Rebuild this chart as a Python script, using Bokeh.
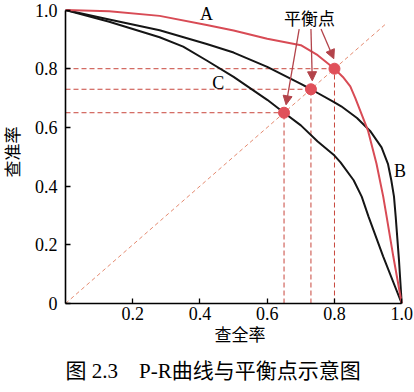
import math
from bokeh.plotting import figure
from bokeh.models import Label, Arrow, NormalHead, FixedTicker, Range1d, Title
from bokeh.embed import file_html
from bokeh.resources import INLINE

# ---- data ----
recall_A = [0.0, 0.13, 0.28, 0.42, 0.50, 0.60, 0.70, 0.75, 0.80, 0.825, 0.847, 0.862, 0.90, 0.925, 0.945, 0.955, 0.975, 1.0]
precision_A = [1.0, 0.996, 0.980, 0.949, 0.930, 0.902, 0.880, 0.846, 0.800, 0.772, 0.740, 0.700, 0.588, 0.476, 0.364, 0.297, 0.160, 0.0]

recall_B = [0.0, 0.13, 0.28, 0.42, 0.50, 0.60, 0.70, 0.73, 0.80, 0.82, 0.867, 0.906, 0.94, 0.959, 0.969, 0.977, 0.982, 0.992, 1.0]
precision_B = [1.0, 0.968, 0.931, 0.884, 0.855, 0.806, 0.748, 0.730, 0.685, 0.672, 0.632, 0.588, 0.532, 0.476, 0.420, 0.364, 0.297, 0.145, 0.0]

recall_C = [0.0, 0.13, 0.28, 0.35, 0.42, 0.50, 0.60, 0.65, 0.70, 0.75, 0.80, 0.818, 0.857, 0.881, 0.901, 0.945, 1.0]
precision_C = [1.0, 0.960, 0.907, 0.875, 0.828, 0.772, 0.694, 0.650, 0.607, 0.552, 0.504, 0.481, 0.420, 0.364, 0.297, 0.160, 0.0]

bep_values = [0.80, 0.73, 0.65]   # break-even points of A, B, C
diag_end = 0.95

x_ticks = [0.2, 0.4, 0.6, 0.8, 1.0]
x_tick_labels = ["0.2", "0.4", "0.6", "0.8", "1.0"]
y_ticks = [0.0, 0.2, 0.4, 0.6, 0.8, 1.0]
y_tick_labels = ["0", "0.2", "0.4", "0.6", "0.8", "1.0"]

curve_names = ["A", "B", "C"]
x_title = "查全率"
y_title = "查准率"
bep_title = "平衡点"
NB = "\u00a0"
caption = "图" + NB + "2.3" + NB * 4 + "P-R曲线与平衡点示意图"

# ---- styles ----
RED = "#d84b55"
DOT = "#e0505a"
DASH = "#c8463c"
DIAG = "#e48a70"
ARROW = "#b3434a"
BLACK = "#151515"
SERIF = "Liberation Serif"
CJK = "Noto Sans CJK SC"
MIX = "Liberation Serif, Noto Sans CJK SC"

p = figure(width=414, height=392, output_backend="svg", toolbar_location=None,
           x_range=Range1d(0, 1.038), y_range=Range1d(0, 1.0324),
           min_border_left=60, min_border_right=0, min_border_top=0, min_border_bottom=89)
p.outline_line_color = None
p.grid.visible = False
p.background_fill_color = "white"
p.border_fill_color = "white"

for ax, ticks, labels in ((p.xaxis[0], x_ticks, x_tick_labels), (p.yaxis[0], y_ticks, y_tick_labels)):
    ax.ticker = FixedTicker(ticks=ticks)
    ax.major_label_overrides = {t: l for t, l in zip(ticks, labels)}
    ax.bounds = (0, 1)
    ax.axis_line_width = 1.6
    ax.axis_line_color = "black"
    ax.major_tick_in = 5
    ax.major_tick_out = 0
    ax.major_tick_line_width = 1.3
    ax.major_tick_line_color = "black"
    ax.minor_tick_line_color = None
    ax.major_label_text_font = SERIF
    ax.major_label_text_font_size = "18px"
    ax.major_label_text_color = "black"
    ax.axis_label_text_font = MIX
    ax.axis_label_text_font_size = "17px"
    ax.axis_label_text_font_style = "normal"
    ax.axis_label_text_color = "black"
p.xaxis.axis_label = x_title
p.yaxis.axis_label = y_title
p.yaxis.major_label_standoff = 8
p.xaxis.major_label_standoff = 3
p.yaxis.axis_label_standoff = 9
p.xaxis.axis_label_standoff = 3

cap = Title(text=caption, align="left", offset=0, standoff=19,
            text_font=MIX, text_font_size="21px", text_font_style="normal", text_color="black")
p.add_layout(cap, "below")

# dashed guides
p.segment(x0=[0] * 3, y0=bep_values, x1=bep_values, y1=bep_values,
          line_color=DASH, line_width=1, line_dash="5 3")
p.segment(x0=bep_values, y0=[0] * 3, x1=bep_values, y1=bep_values,
          line_color=DASH, line_width=1, line_dash="5 3")
p.line([0, diag_end], [0, diag_end], line_color=DIAG, line_width=1, line_dash="4 3")

# curves
p.line(recall_C, precision_C, line_color=BLACK, line_width=2)
p.line(recall_B, precision_B, line_color=BLACK, line_width=2)
p.line(recall_A, precision_A, line_color=RED, line_width=2)

# break-even points
p.scatter(bep_values, bep_values, size=11, fill_color=DOT, line_color=DOT)

# arrows from the label to the points
arrow_starts = [(0.695, 0.935), (0.730, 0.935), (0.760, 0.935)]
arrow_ends = [(0.656, 0.677), (0.734, 0.759), (0.798, 0.834)]
for (xs, ys), (xe, ye) in zip(arrow_starts, arrow_ends):
    p.add_layout(Arrow(x_start=xs, y_start=ys, x_end=xe, y_end=ye,
                       line_color=ARROW, line_width=1.3,
                       end=NormalHead(size=9, fill_color=ARROW, line_color=ARROW)))

def lab(x, y, text, font, size, **kw):
    opts = dict(text_align="center", text_baseline="middle", text_color="black")
    opts.update(kw)
    p.add_layout(Label(x=x, y=y, text=text, text_font=font, text_font_size=size, **opts))

label_pos = [(0.419, 0.988), (0.995, 0.453), (0.454, 0.750)]
for name, (lx, ly) in zip(curve_names, label_pos):
    lab(lx, ly, name, SERIF, "18px")

lab(0.726, 0.973, bep_title, CJK, "17px")

open("out.html", "w").write(file_html(p, INLINE))
